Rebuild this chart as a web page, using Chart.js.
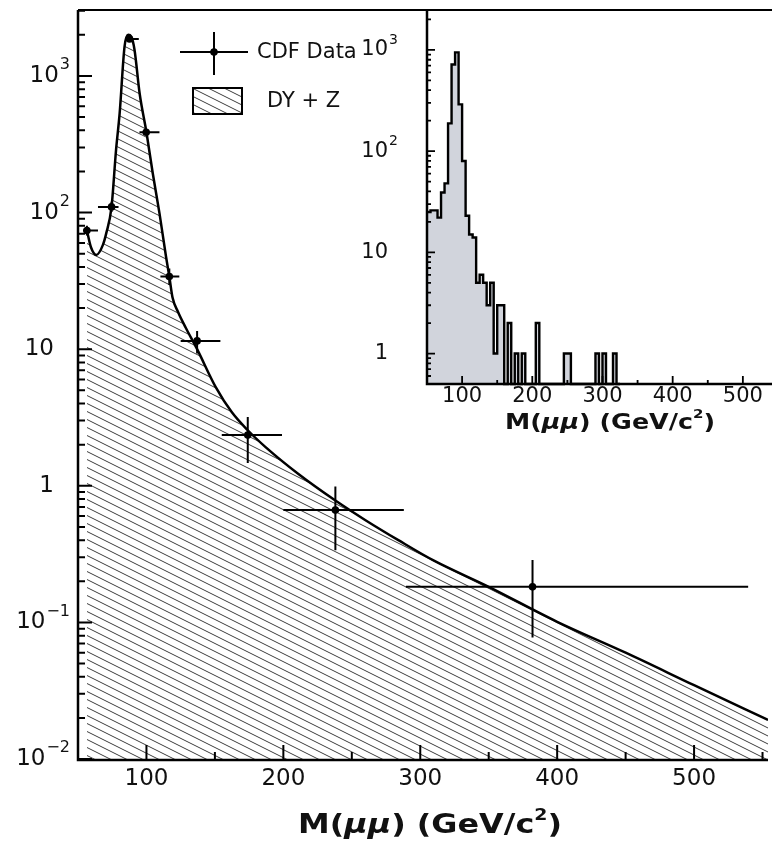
<!DOCTYPE html>
<html><head><meta charset="utf-8">
<script src="https://cdn.jsdelivr.net/npm/chart.js@4.4.1/dist/chart.umd.min.js"></script>
<style>
html,body{margin:0;padding:0;background:#fff;}
#wrap{position:relative;width:772px;height:843px;overflow:hidden;background:#fff;}
canvas{position:absolute;left:0;top:0;}
</style></head><body>
<div id="wrap"><canvas id="main" width="772" height="843"></canvas><canvas id="inset" width="772" height="843"></canvas></div>
<script>
// ---------- main panel: CDF data points (mass in GeV/c^2) ----------
const dataMass      = [56.5, 74.5, 87.6, 99.8, 116.7, 137, 174, 238, 382];
const dataValue     = [74, 110, 1866, 387, 34, 11.5, 2.35, 0.664, 0.182];
const dataMassLow   = [53.7, 64.6, 84.7, 94.9, 110.2, 125, 155, 200, 289.5];
const dataMassHigh  = [64.6, 79.6, 94.4, 109.5, 124, 154, 199, 288, 539.5];
const dataValueLow  = [68, 101, 1820, 370, 29.5, 9.3, 1.47, 0.338, 0.0776];
const dataValueHigh = [80, 120, 1910, 405, 39, 13.6, 3.19, 0.99, 0.286];

// ---------- main panel: DY + Z expectation curve ----------
const curveMass  = [56.5, 59.4, 63.4, 68.2, 70.7, 74.5, 77.8, 80.4, 84, 86.7, 88.9, 91.3, 95, 100, 104.6, 109.5, 114.3, 116.7, 119, 123, 128.8, 137, 150.5, 162.4, 174, 187, 211, 238, 260, 284, 310, 350, 400, 450, 500, 554];
const curveValue = [74, 56, 49, 58, 71, 110, 288, 530, 1640, 2000, 1940, 1550, 747, 387, 194, 99, 47.5, 34, 24, 18.8, 14.3, 10.0, 5.3, 3.45, 2.55, 1.92, 1.22, 0.78, 0.56, 0.40, 0.283, 0.182, 0.101, 0.060, 0.0347, 0.0193];

// ---------- inset: event counts per 5 GeV/c^2 bin, starting at 50 ----------
const insetBinStart = 50;
const insetBinWidth = 5;
const insetCounts = [25, 26, 26, 22, 39, 48, 188, 718, 945, 290,
                     80, 23, 15, 14, 5, 6, 5, 3, 5, 1,
                     3, 3, 0, 2, 0, 1, 0, 1, 0, 0,
                     0, 2, 0, 0, 0, 0, 0, 0, 0, 1,
                     1, 0, 0, 0, 0, 0, 0, 0, 1, 0,
                     1, 0, 0, 1, 0];

// ---------- tick labels ----------
const mainXTicks   = [100, 200, 300, 400, 500];
const mainXMinor   = [150, 250, 350, 450, 550];
const mainYTicks   = [0.01, 0.1, 1, 10, 100, 1000];
const mainYBase    = ['10', '10', '1', '10', '10', '10'];
const mainYExp     = ['\u22122', '\u22121', '', '', '2', '3'];
const insetXTicks  = [100, 200, 300, 400, 500];
const insetXMinor  = [150, 250, 350, 450];
const insetYTicks  = [1, 10, 100, 1000];
const insetYBase   = ['1', '10', '10', '10'];
const insetYExp    = ['', '', '2', '3'];
const legendLabels = ['CDF Data', 'DY + Z'];

const FONT = '"DejaVu Sans", "Liberation Sans", sans-serif';

function makeHatch() {
  const c = document.createElement('canvas');
  c.width = 16; c.height = 8;
  const g = c.getContext('2d');
  g.strokeStyle = '#3c3c3c'; g.lineWidth = 1;
  for (let k = -1; k <= 1; k++) {
    g.beginPath(); g.moveTo(0, 8 * k); g.lineTo(16, 8 * k + 8); g.stroke();
  }
  return g.createPattern(c, 'repeat');
}
const hatch = makeHatch();

function logMinors(min, max) {
  const out = [];
  for (let e = Math.floor(Math.log10(min)); e <= Math.ceil(Math.log10(max)); e++) {
    for (let k = 2; k <= 9; k++) { const v = k * Math.pow(10, e); if (v >= min && v <= max) out.push(v); }
  }
  return out;
}

function supLabel(ctx, base, exp, right, cy, fBase, fSup, rise) {
  ctx.textBaseline = 'middle'; ctx.textAlign = 'left';
  ctx.font = fSup; const ws = exp ? ctx.measureText(exp).width : 0;
  ctx.font = fBase; const wb = ctx.measureText(base).width;
  const gap = exp ? 1 : 0;
  const x0 = right - ws - wb - gap;
  ctx.fillText(base, x0, cy);
  if (exp) { ctx.font = fSup; ctx.fillText(exp, x0 + wb + gap, cy - rise); }
}

function massTitle(ctx, cx, cy, size, targetW) {
  const segs = [
    {t: 'M(', f: 'bold ' + size + 'px ' + FONT, dy: 0},
    {t: '\u03bc\u03bc', f: 'italic bold ' + size + 'px ' + FONT, dy: 0},
    {t: ') (GeV/c', f: 'bold ' + size + 'px ' + FONT, dy: 0},
    {t: '2', f: 'bold ' + Math.round(size * 0.6) + 'px ' + FONT, dy: -size * 0.38},
    {t: ')', f: 'bold ' + size + 'px ' + FONT, dy: 0}
  ];
  let w = 0;
  segs.forEach(s => { ctx.font = s.f; s.w = ctx.measureText(s.t).width; w += s.w; });
  const sx = targetW / w;
  ctx.save();
  ctx.translate(cx - targetW / 2, cy);
  ctx.scale(sx, 1);
  let x = 0;
  ctx.textBaseline = 'middle'; ctx.textAlign = 'left';
  segs.forEach(s => { ctx.font = s.f; ctx.fillText(s.t, x, s.dy); x += s.w; });
  ctx.restore();
}

const mainDecor = {
  id: 'mainDecor',
  beforeDraw(chart) {
    const ctx = chart.ctx;
    ctx.save(); ctx.fillStyle = '#fff'; ctx.fillRect(0, 0, chart.width, chart.height); ctx.restore();
  },
  afterDatasetsDraw(chart) {
    const ctx = chart.ctx, xs = chart.scales.x, ys = chart.scales.y, a = chart.chartArea;
    ctx.save();
    ctx.strokeStyle = '#000'; ctx.fillStyle = '#000'; ctx.lineCap = 'butt';
    // error bars
    ctx.lineWidth = 2;
    for (let i = 0; i < dataMass.length; i++) {
      const px = xs.getPixelForValue(dataMass[i]), py = ys.getPixelForValue(dataValue[i]);
      ctx.beginPath();
      ctx.moveTo(xs.getPixelForValue(dataMassLow[i]), py); ctx.lineTo(xs.getPixelForValue(dataMassHigh[i]), py);
      ctx.moveTo(px, ys.getPixelForValue(dataValueLow[i])); ctx.lineTo(px, ys.getPixelForValue(dataValueHigh[i]));
      ctx.stroke();
    }
    // frame
    ctx.lineWidth = 2;
    ctx.beginPath(); ctx.moveTo(a.left, a.top); ctx.lineTo(a.right, a.top); ctx.stroke();
    ctx.lineWidth = 2.5;
    ctx.beginPath(); ctx.moveTo(a.left, a.top); ctx.lineTo(a.left, a.bottom + 1); ctx.lineTo(a.right, a.bottom + 1); ctx.stroke();
    // ticks
    ctx.lineWidth = 2;
    ctx.beginPath();
    mainXTicks.forEach(v => { const p = xs.getPixelForValue(v); ctx.moveTo(p, a.bottom); ctx.lineTo(p, a.bottom - 14); });
    mainXMinor.forEach(v => { const p = xs.getPixelForValue(v); ctx.moveTo(p, a.bottom); ctx.lineTo(p, a.bottom - 7); });
    mainYTicks.forEach(v => { const p = ys.getPixelForValue(v); ctx.moveTo(a.left, p); ctx.lineTo(a.left + 14, p); });
    logMinors(ys.min, ys.max).forEach(v => { const p = ys.getPixelForValue(v); ctx.moveTo(a.left, p); ctx.lineTo(a.left + 7, p); });
    ctx.stroke();
    // tick labels
    ctx.fillStyle = '#111';
    ctx.font = '23px ' + FONT; ctx.textAlign = 'center'; ctx.textBaseline = 'middle';
    mainXTicks.forEach(v => ctx.fillText(String(v), xs.getPixelForValue(v), 779));
    for (let i = 0; i < mainYTicks.length; i++) {
      const right = mainYExp[i] ? 70 : 54;
      supLabel(ctx, mainYBase[i], mainYExp[i], right, ys.getPixelForValue(mainYTicks[i]), '23px ' + FONT, '16px ' + FONT, 11);
    }
    // axis title
    massTitle(ctx, 430, 826, 27, 264);
    // legend
    ctx.strokeStyle = '#000'; ctx.lineWidth = 2;
    ctx.beginPath(); ctx.moveTo(180, 52); ctx.lineTo(248, 52); ctx.moveTo(214, 32); ctx.lineTo(214, 75); ctx.stroke();
    ctx.fillStyle = '#000';
    ctx.beginPath(); ctx.arc(214, 52, 3.8, 0, Math.PI * 2); ctx.fill();
    ctx.fillStyle = hatch; ctx.fillRect(193, 88, 49, 26);
    ctx.strokeRect(193, 88, 49, 26);
    ctx.fillStyle = '#111'; ctx.font = '21px ' + FONT; ctx.textAlign = 'left'; ctx.textBaseline = 'middle';
    ctx.fillText(legendLabels[0], 257, 53);
    ctx.fillText(legendLabels[1], 267, 102);
    ctx.restore();
  }
};

new Chart(document.getElementById('main'), {
  type: 'line',
  data: {
    datasets: [
      { label: legendLabels[1], data: curveMass.map((m, i) => ({x: m, y: curveValue[i]})),
        borderColor: '#000', borderWidth: 2.5, pointRadius: 0, fill: 'start', backgroundColor: hatch,
        cubicInterpolationMode: 'monotone', order: 2 },
      { label: legendLabels[0], type: 'scatter', data: dataMass.map((m, i) => ({x: m, y: dataValue[i]})),
        pointRadius: 3.8, pointBackgroundColor: '#000', pointBorderWidth: 0, showLine: false, order: 1 }
    ]
  },
  options: {
    responsive: false, animation: false, devicePixelRatio: 1,
    layout: { padding: { left: 78, top: 10, right: 0, bottom: 84 } },
    plugins: { legend: { display: false }, tooltip: { enabled: false } },
    scales: {
      x: { type: 'linear', min: 50, max: 554, display: false },
      y: { type: 'logarithmic', min: 0.01, max: 3040, display: false }
    }
  },
  plugins: [mainDecor]
});

// ---------- inset ----------
const insetFloor = 0.5;
const insetPoints = insetCounts.map((c, i) => ({x: insetBinStart + i * insetBinWidth, y: c > 0 ? c : insetFloor}));
insetPoints.push({x: insetBinStart + insetCounts.length * insetBinWidth, y: insetFloor});

const insetDecor = {
  id: 'insetDecor',
  beforeDatasetsDraw(chart) {
    const ctx = chart.ctx, a = chart.chartArea;
    ctx.save(); ctx.fillStyle = '#fff'; ctx.fillRect(a.left, a.top, a.right - a.left, a.bottom - a.top); ctx.restore();
  },
  afterDatasetsDraw(chart) {
    const ctx = chart.ctx, xs = chart.scales.x, ys = chart.scales.y, a = chart.chartArea;
    ctx.save();
    ctx.strokeStyle = '#000'; ctx.fillStyle = '#111';
    ctx.lineWidth = 2;
    ctx.beginPath(); ctx.moveTo(a.left, a.top); ctx.lineTo(a.right, a.top); ctx.stroke();
    ctx.lineWidth = 2.5;
    ctx.beginPath(); ctx.moveTo(a.left, a.top); ctx.lineTo(a.left, a.bottom); ctx.lineTo(a.right, a.bottom); ctx.stroke();
    ctx.lineWidth = 1.8;
    ctx.beginPath();
    insetXTicks.forEach(v => { const p = xs.getPixelForValue(v); ctx.moveTo(p, a.bottom); ctx.lineTo(p, a.bottom - 8); });
    insetXMinor.forEach(v => { const p = xs.getPixelForValue(v); ctx.moveTo(p, a.bottom); ctx.lineTo(p, a.bottom - 4); });
    insetYTicks.forEach(v => { const p = ys.getPixelForValue(v); ctx.moveTo(a.left, p); ctx.lineTo(a.left + 8, p); });
    logMinors(ys.min, ys.max).forEach(v => { const p = ys.getPixelForValue(v); ctx.moveTo(a.left, p); ctx.lineTo(a.left + 4, p); });
    ctx.stroke();
    ctx.font = '21px ' + FONT; ctx.textAlign = 'center'; ctx.textBaseline = 'middle';
    insetXTicks.forEach(v => ctx.fillText(String(v), xs.getPixelForValue(v), 397));
    for (let i = 0; i < insetYTicks.length; i++) {
      const right = insetYExp[i] ? 398 : 388;
      supLabel(ctx, insetYBase[i], insetYExp[i], right, ys.getPixelForValue(insetYTicks[i]), '21px ' + FONT, '14px ' + FONT, 10);
    }
    massTitle(ctx, 610, 423, 22, 210);
    ctx.restore();
  }
};

new Chart(document.getElementById('inset'), {
  type: 'line',
  data: {
    datasets: [
      { label: 'M(\u03bc\u03bc) events', data: insetPoints, stepped: 'before',
        borderColor: '#000', borderWidth: 2.4, pointRadius: 0, fill: 'start',
        backgroundColor: '#d1d4dc', clip: 3 }
    ]
  },
  options: {
    responsive: false, animation: false, devicePixelRatio: 1,
    layout: { padding: { left: 427, top: 10, right: 0, bottom: 459 } },
    plugins: { legend: { display: false }, tooltip: { enabled: false } },
    scales: {
      x: { type: 'linear', min: 50, max: 541.5, display: false },
      y: { type: 'logarithmic', min: 0.5, max: 2480, display: false }
    }
  },
  plugins: [insetDecor]
});
</script>
</body></html>
